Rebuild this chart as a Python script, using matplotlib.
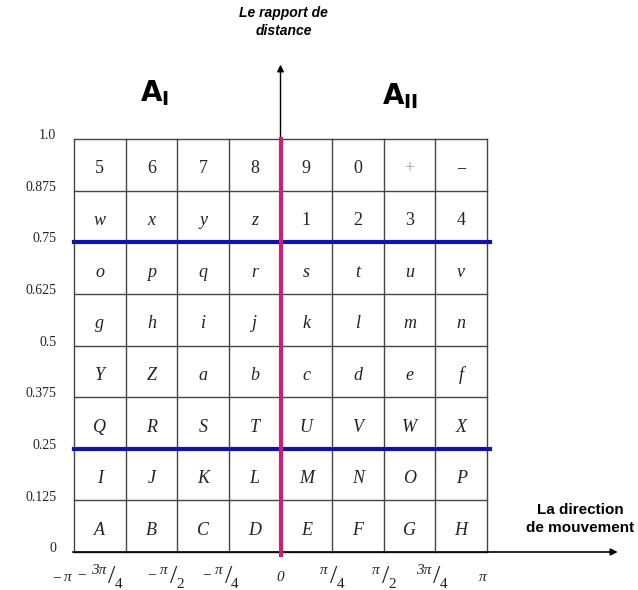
import numpy as np
import matplotlib.pyplot as plt

# grid of characters, top row first
rows = [
    ["5", "6", "7", "8", "9", "0", "+", "\u2212"],
    ["w", "x", "y", "z", "1", "2", "3", "4"],
    ["o", "p", "q", "r", "s", "t", "u", "v"],
    ["g", "h", "i", "j", "k", "l", "m", "n"],
    ["Y", "Z", "a", "b", "c", "d", "e", "f"],
    ["Q", "R", "S", "T", "U", "V", "W", "X"],
    ["I", "J", "K", "L", "M", "N", "O", "P"],
    ["A", "B", "C", "D", "E", "F", "G", "H"],
]
y_ticks = [0, 0.125, 0.25, 0.375, 0.5, 0.625, 0.75, 0.875, 1.0]
y_labels = ["0", "0.125", "0.25", "0.375", "0.5", "0.625", "0.75", "0.875", "1.0"]
x_ticks = np.pi * np.array([-1, -0.75, -0.5, -0.25, 0, 0.25, 0.5, 0.75, 1])
# (sign, numerator, denominator); denominator None -> plain label
x_labels = [("\u2212", "\u03c0", None), ("\u2212", "3\u03c0", "4"), ("\u2212", "\u03c0", "2"),
            ("\u2212", "\u03c0", "4"), ("", "0", None), ("", "\u03c0", "4"),
            ("", "\u03c0", "2"), ("", "3\u03c0", "4"), ("", "\u03c0", None)]
x_label_shift = [-0.1, -0.25, -0.1, -0.05, 0.0, -0.02, -0.02, -0.02, -0.06]
blue_levels = [0.25, 0.75]

fig = plt.figure(figsize=(6.38, 5.90), dpi=100)
ax = fig.add_axes([74 / 638, 38 / 590, 413 / 638, 413 / 590])
ax.set_xlim(-np.pi, np.pi)
ax.set_ylim(0, 1)
ax.axis("off")

ncol = len(rows[0])
nrow = len(rows)
xs = np.linspace(-np.pi, np.pi, ncol + 1)
ys = np.linspace(0, 1, nrow + 1)
grid_col = "#444444"
for x in xs:
    ax.plot([x, x], [0, 1], color=grid_col, lw=1.0, clip_on=False)
for y in ys:
    ax.plot([-np.pi, np.pi], [y, y], color=grid_col, lw=1.0, clip_on=False)

for y in blue_levels:
    ax.plot([-np.pi, np.pi + 0.05], [y, y], color="#1212a8", lw=3.0, clip_on=False, zorder=3)
ax.plot([0, 0], [-0.008, 1], color="#cc1f78", lw=3.0, clip_on=False, zorder=4)

# axes arrows
ax.annotate("", xy=(0, 1.18), xytext=(0, 1.0), annotation_clip=False,
            arrowprops=dict(arrowstyle="-|>", color="black", lw=1.0, mutation_scale=10,
                            shrinkA=0, shrinkB=0))
ax.annotate("", xy=(5.13, 0), xytext=(np.pi, 0), annotation_clip=False,
            arrowprops=dict(arrowstyle="-|>", color="black", lw=1.2, mutation_scale=10,
                            shrinkA=0, shrinkB=0))
ax.plot([-np.pi - 0.02, np.pi], [0, 0], color="black", lw=1.2, clip_on=False)

# cell labels
dx = xs[1] - xs[0]
dy = ys[1] - ys[0]
for r, row in enumerate(rows):
    yc = 1 - (r + 0.5) * dy - 0.01
    for c, ch in enumerate(row):
        xc = xs[c] + 0.5 * dx
        upright = ch.isdigit() or ch in "+\u2212"
        ax.text(xc, yc, ch, ha="center", va="center", fontsize=13,
                family="Liberation Serif", style="normal" if upright else "italic",
                color="#999999" if ch == "+" else "#222222")

# y tick labels
for y, lab in zip(y_ticks, y_labels):
    ax.text(-np.pi - 0.27, y + 0.008, lab, ha="right", va="center", fontsize=10,
            family="Liberation Serif", color="#222222")

# x tick labels, drawn as slanted fractions
serif = dict(family="Liberation Serif", color="#222222", fontsize=11)
for x, (sign, num, den), s in zip(x_ticks, x_labels, x_label_shift):
    xc = x + s
    y0 = -0.058
    if den is None:
        ax.annotate(num, (xc, y0 - 0.004), ha="center", va="center", style="italic",
                    annotation_clip=False, **serif)
        if sign:
            ax.annotate(sign, (xc, y0 - 0.004), xytext=(-5, 0), textcoords="offset points",
                        ha="right", va="center", annotation_clip=False, **serif)
        continue
    ax.annotate("/", (xc, y0), xytext=(2, -1), textcoords="offset points",
                ha="center", va="center", fontsize=19, family="Liberation Serif",
                color="#222222", annotation_clip=False)
    ax.annotate(num, (xc, y0), xytext=(-2, 4), textcoords="offset points",
                ha="right", va="center", style="italic", annotation_clip=False, **serif)
    ax.annotate(den, (xc, y0), xytext=(4, -6), textcoords="offset points",
                ha="left", va="center", annotation_clip=False, **serif)
    if sign:
        ax.annotate(sign, (xc, y0), xytext=(-4 - 6.5 * len(num), 1), textcoords="offset points",
                    ha="right", va="center", annotation_clip=False, **serif)

ax.text(0.05, 1.283, "Le rapport de\ndistance", ha="center", va="center", fontsize=10,
        family="Liberation Sans", weight="bold", style="italic", linespacing=1.35)
ax.text(4.56, 0.08, "La direction\nde mouvement", ha="center", va="center", fontsize=11,
        family="Liberation Sans", weight="bold", linespacing=1.3)

ax.text(-1.91, 1.11, r"$\mathbf{A}_{\mathbf{I}}$", ha="center", va="center", fontsize=20,
        math_fontfamily="dejavusans")
ax.text(1.82, 1.105, r"$\mathbf{A}_{\mathbf{II}}$", ha="center", va="center", fontsize=20,
        math_fontfamily="dejavusans")

fig.savefig("out.png", dpi=100)
